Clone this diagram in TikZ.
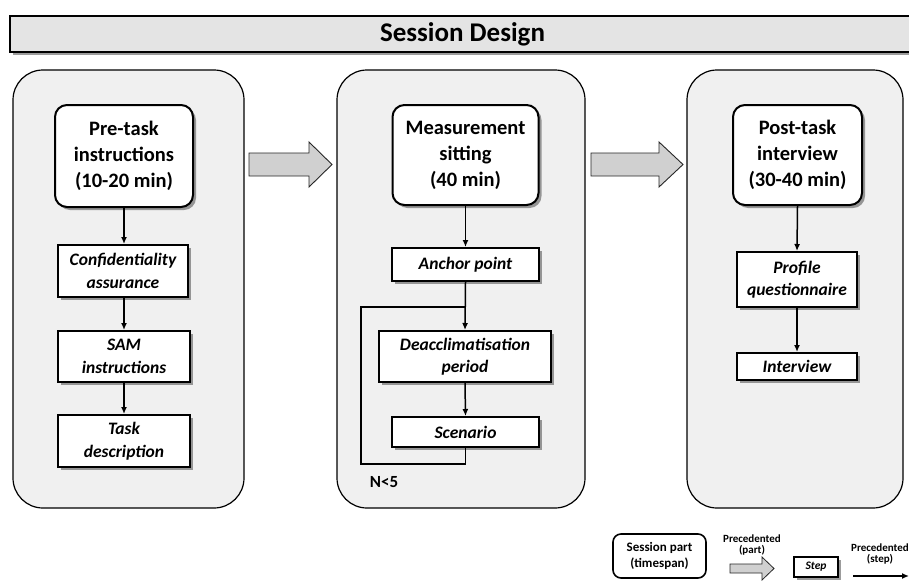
\documentclass[tikz,border=0pt]{standalone}
\usepackage{fontspec}
\setmainfont{Carlito}
\usetikzlibrary{shadows,arrows.meta}
\definecolor{panelgray}{RGB}{240,240,240}
\definecolor{titlegray}{RGB}{228,228,228}
\definecolor{arrowgray}{RGB}{208,208,208}
\begin{document}
\begin{tikzpicture}[x=1pt,y=-1pt,
  shadowed/.style={drop shadow={shadow xshift=3pt,shadow yshift=-3pt,fill=black!70,opacity=0.55}},
  panel/.style={draw=black,line width=1.2pt,fill=panelgray,rounded corners=30pt,inner sep=0pt},
  part/.style={draw,line width=2pt,fill=white,rounded corners=12pt,shadowed,align=center,inner sep=0pt,
    font=\fontsize{20.5}{26}\selectfont\bfseries},
  stepbox/.style={draw,line width=2pt,fill=white,shadowed,align=center,inner sep=0pt,
    font=\fontsize{17.5}{22.5}\selectfont\bfseries\itshape},
  flow/.style={-{Latex[length=7pt,width=6pt]},line width=1.5pt},
  loopline/.style={line width=1.5pt},
  blockarrow/.style={draw=black!85,line width=0.9pt,fill=arrowgray},
  legtext/.style={align=center,inner sep=0pt,font=\fontsize{11}{11.5}\selectfont\bfseries}
]
\useasboundingbox (0,0) rectangle (909,581);
\fill[white] (0,0) rectangle (909,581);

% title bar
\node[draw,line width=2pt,fill=titlegray,shadowed,minimum width=905pt,minimum height=36pt,inner sep=0pt,
  font=\fontsize{27}{30}\selectfont\bfseries] (title) at (462.5,34) {Session Design};

% panels
\node[panel,minimum width=231pt,minimum height=438pt] (pleft) at (128.5,289) {};
\node[panel,minimum width=248pt,minimum height=438pt] (pmid) at (461,289) {};
\node[panel,minimum width=216pt,minimum height=438pt] (pright) at (795,289) {};

% block arrows between panels
\draw[blockarrow] (249,153) -- (309,153) -- (309,142) -- (332,164.5) -- (309,187) -- (309,176) -- (249,176) -- cycle;
\draw[blockarrow] (591,153) -- (659,153) -- (659,142) -- (683,164.5) -- (659,187) -- (659,176) -- (591,176) -- cycle;

% left panel
\node[part,minimum width=138pt,minimum height=102pt] (pre) at (124,156) {Pre-task\\instructions\\(10-20 min)};
\node[stepbox,minimum width=130pt,minimum height=52pt] (conf) at (123,271) {Confidentiality\\assurance};
\node[stepbox,minimum width=132pt,minimum height=51pt] (sam) at (124,356.5) {SAM\\instructions};
\node[stepbox,minimum width=132pt,minimum height=52pt] (task) at (124,441) {Task\\description};
\draw[flow] (pre.south) -- (pre.south |- conf.north);
\draw[flow] (pre.south |- conf.south) -- (pre.south |- sam.north);
\draw[flow] (sam.south) -- (task.north);

% middle panel
\node[part,minimum width=146pt,minimum height=100pt] (meas) at (465.5,155) {Measurement\\sitting\\(40 min)};
\node[stepbox,minimum width=147pt,minimum height=33pt] (anchor) at (465.5,264.5) {Anchor point};
\node[stepbox,minimum width=172pt,minimum height=51pt] (deacc) at (465,356.5) {Deacclimatisation\\period};
\node[stepbox,minimum width=147pt,minimum height=30pt] (scen) at (465.5,432) {Scenario};
\draw[flow] (meas.south) -- (anchor.north);
\draw[flow] (anchor.south) -- (deacc.north);
\draw[flow] (deacc.south) -- (scen.north);
\coordinate (loopbl) at (361,464);
\coordinate (loopj) at (465.5,307);
\draw[loopline] (scen.south) |- (loopbl) |- (loopj);
\node[inner sep=0pt,font=\fontsize{17}{20}\selectfont\bfseries] (nlt) at (384,482) {N<5};

% right panel
\node[part,minimum width=129pt,minimum height=100pt] (post) at (797.5,155) {Post-task\\interview\\(30-40 min)};
\node[stepbox,minimum width=120pt,minimum height=55pt] (prof) at (797,279.5) {Profile\\questionnaire};
\node[stepbox,minimum width=120pt,minimum height=27pt] (inter) at (797,366.5) {Interview};
\draw[flow] (post.south) -- (prof.north);
\draw[flow] (prof.south) -- (inter.north);

% legend
\node[draw,line width=1.6pt,fill=white,rounded corners=8pt,minimum width=93pt,minimum height=44pt,inner sep=0pt,
  align=center,font=\fontsize{13}{15.5}\selectfont\bfseries] (legpart) at (659.5,556) {Session part\\(timespan)};
\node[legtext] (legprec1) at (752,545) {Precedented\\(part)};
\draw[blockarrow,line width=0.8pt] (730,564) -- (762,564) -- (762,557) -- (774,568.5) -- (762,580) -- (762,573) -- (730,573) -- cycle;
\node[draw,line width=1.5pt,fill=white,shadowed,minimum width=44pt,minimum height=20pt,inner sep=0pt,
  font=\fontsize{11.5}{13}\selectfont\bfseries\itshape] (legstep) at (816,567) {Step};
\node[legtext] (legprec2) at (880,554) {Precedented\\(step)};
\coordinate (legs) at (853,576);
\coordinate (lege) at (909,576);
\draw[flow] (legs) -- (lege);
\end{tikzpicture}
\end{document}
